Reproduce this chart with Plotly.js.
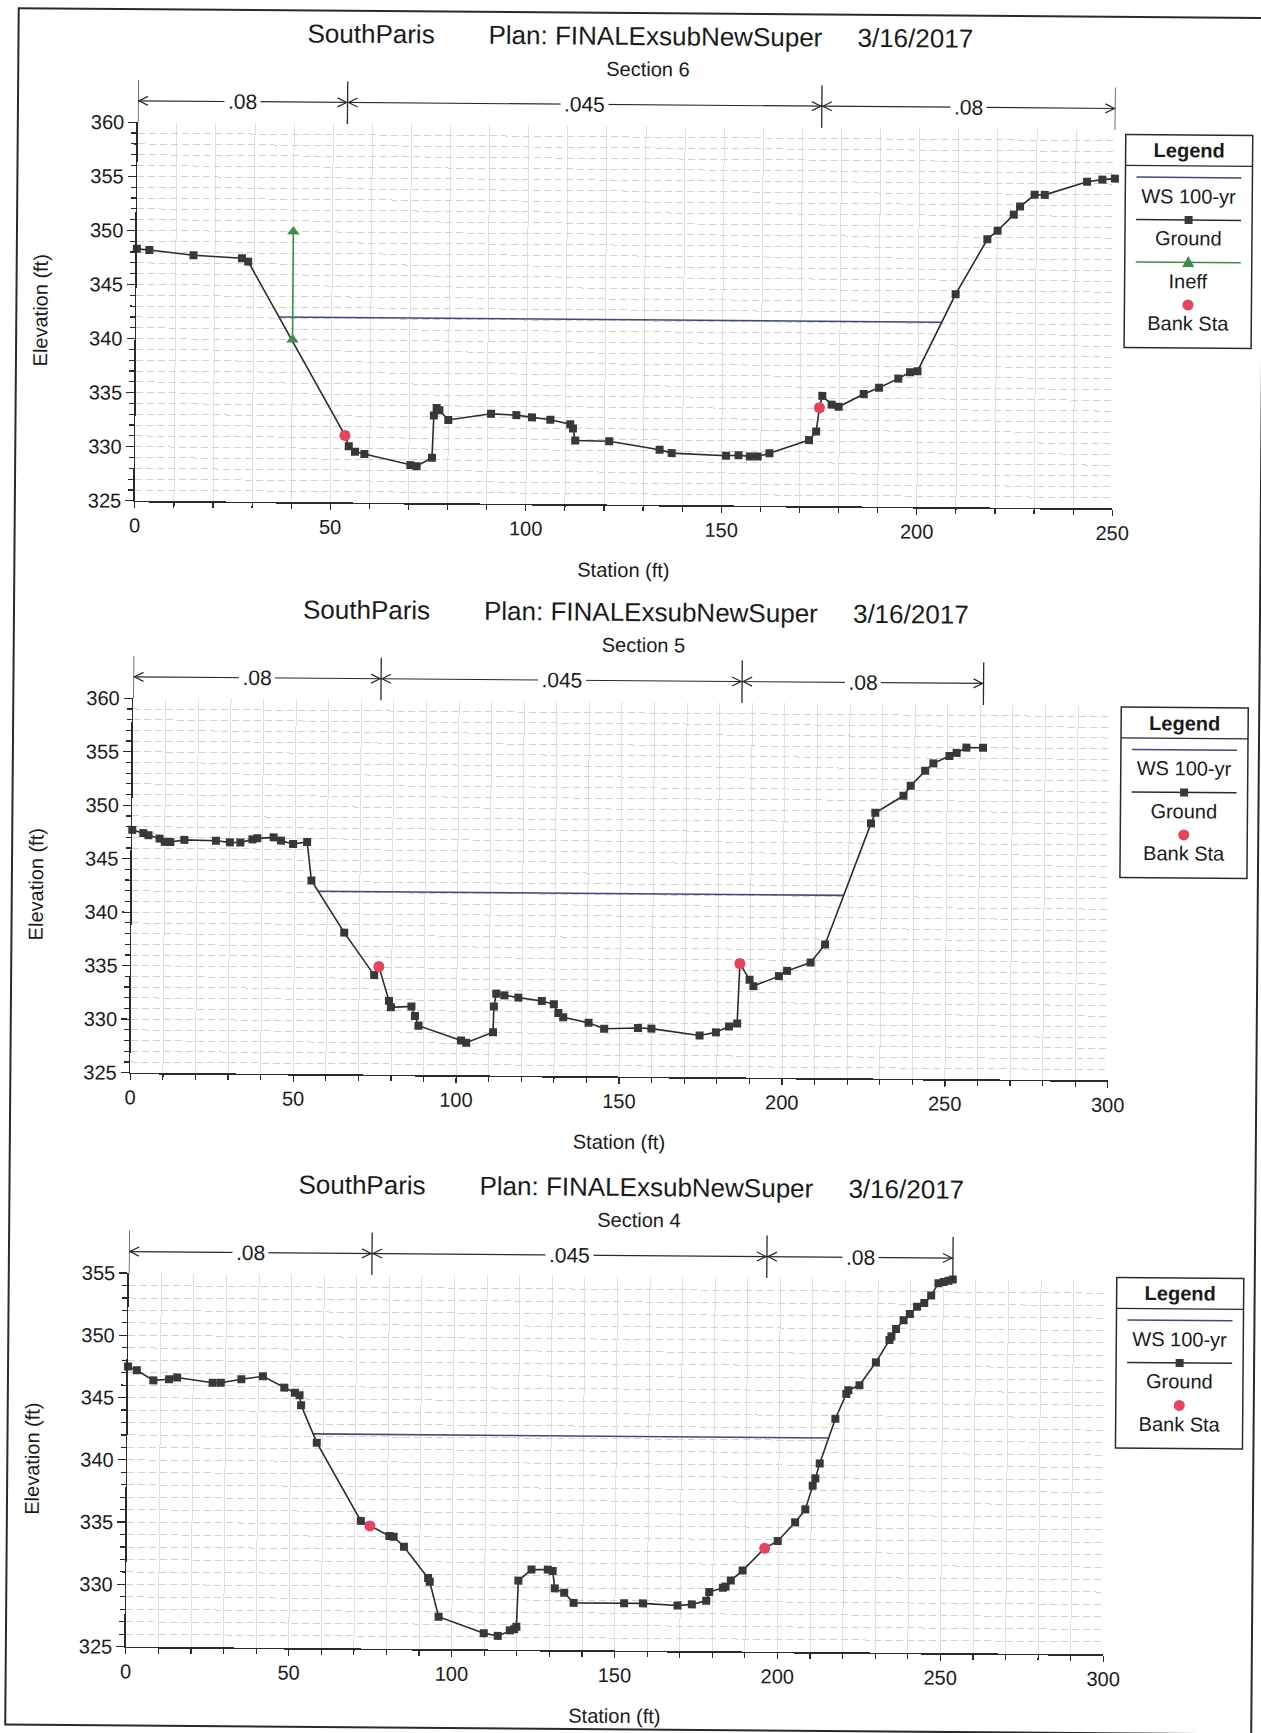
<!DOCTYPE html>
<html>
<head>
<meta charset="utf-8">
<script src="https://cdn.plot.ly/plotly-3.0.1.min.js"></script>
<style>
  html, body { margin: 0; padding: 0; background: #ffffff; overflow: hidden; }
  /* the printed page sits very slightly turned */
  #chart { width: 1261px; height: 1733px; transform: rotate(0.45deg); transform-origin: 630.5px 866.5px; }
</style>
</head>
<body>
<div id="chart"></div>
<script>
// ---- labels ----
const riverName = 'SouthParis';
const planName = 'Plan: FINALExsubNewSuper';
const planDate = '3/16/2017';
const sectionNames = ['Section 6', 'Section 5', 'Section 4'];
const legendTitle = 'Legend';
const wsName = 'WS 100-yr';
const groundName = 'Ground';
const ineffName = 'Ineff';
const bankName = 'Bank Sta';
const xTitle = 'Station (ft)';
const yTitle = 'Elevation (ft)';

// ---- Section 6 ----
const sec6Station = [0, 3.2, 14.5, 26.9, 28.5, 53.6, 54.6, 56.2, 58.6, 70.4, 72.0, 75.9, 76.3, 77.0, 77.7, 80.0, 90.9, 97.4, 101.4, 106.1, 111.2, 111.9, 112.5, 121.2, 134.1, 137.2, 151.1, 154.3, 157.2, 159.2, 162.2, 172.3, 174.1, 174.9, 175.6, 178.0, 179.8, 186.2, 190.1, 195.0, 198.0, 199.9, 209.5, 217.5, 220.1, 224.2, 225.8, 229.5, 232.1, 242.9, 246.8, 250.0];
const sec6Elev = [348.3, 348.2, 347.75, 347.5, 347.2, 331.2, 330.2, 329.7, 329.5, 328.5, 328.4, 329.2, 333.1, 333.8, 333.6, 332.7, 333.3, 333.2, 333.0, 332.8, 332.4, 332.0, 330.9, 330.85, 330.1, 329.8, 329.6, 329.65, 329.55, 329.55, 329.85, 331.1, 331.9, 334.1, 335.2, 334.4, 334.2, 335.4, 336.0, 336.85, 337.45, 337.55, 344.7, 349.8, 350.6, 352.1, 352.85, 353.95, 353.95, 355.2, 355.4, 355.5];
const sec6Bank = [53.6, 174.9];
const sec6WS = 342.1;
const sec6IneffStation = [40, 40];
const sec6IneffElev = [340, 350];
const sec6N = ['.08', '.045', '.08'];
const sec6XRange = [0, 250];
const sec6YRange = [325, 360];

// ---- Section 5 ----
const sec5Station = [0, 3.4, 5.0, 8.4, 10.0, 11.7, 16.0, 25.7, 30.0, 33.2, 36.9, 38.4, 43.4, 45.7, 49.4, 53.7, 55.1, 65.3, 74.6, 76.0, 79.2, 79.8, 86.1, 87.2, 88.3, 101.4, 103.0, 111.2, 111.4, 112.1, 114.6, 118.9, 126.1, 129.8, 131.2, 132.7, 140.5, 145.3, 155.7, 159.8, 174.6, 179.6, 183.6, 186.1, 186.8, 189.8, 191.0, 198.8, 201.3, 208.5, 212.9, 226.7, 228.0, 236.6, 238.8, 243.2, 245.7, 250.6, 252.8, 255.8, 260.9];
const sec5Elev = [347.7, 347.4, 347.2, 346.9, 346.6, 346.6, 346.8, 346.75, 346.6, 346.6, 346.9, 347.0, 347.1, 346.8, 346.5, 346.7, 343.1, 338.25, 334.3, 335.1, 331.9, 331.3, 331.4, 330.5, 329.6, 328.25, 328.05, 329.05, 331.45, 332.65, 332.5, 332.3, 332.0, 331.7, 330.9, 330.5, 330.0, 329.45, 329.55, 329.5, 328.9, 329.2, 329.75, 330.05, 335.65, 334.15, 333.55, 334.5, 335.0, 335.8, 337.5, 348.85, 349.85, 351.45, 352.4, 353.8, 354.5, 355.2, 355.5, 356.0, 356.0];
const sec5Bank = [76.0, 186.8];
const sec5WS = 342.1;
const sec5N = ['.08', '.045', '.08'];
const sec5XRange = [0, 300];
const sec5YRange = [325, 360];

// ---- Section 4 ----
const sec4Station = [0, 2.7, 7.8, 12.6, 15.1, 26.0, 28.5, 34.8, 41.4, 48.0, 51.3, 52.7, 53.2, 58.1, 71.8, 74.6, 80.6, 81.9, 85.1, 92.6, 93.1, 95.9, 109.8, 114.1, 117.8, 119.1, 119.8, 120.3, 124.3, 129.3, 130.8, 131.5, 134.4, 137.3, 152.8, 158.6, 169.2, 173.6, 178.0, 178.9, 183.1, 183.9, 185.5, 189.1, 195.8, 199.8, 205.1, 208.2, 210.4, 211.2, 212.5, 217.2, 220.5, 221.1, 224.5, 229.5, 233.6, 234.2, 235.6, 237.9, 239.8, 242.0, 244.2, 246.3, 248.5, 250.1, 251.6, 252.9];
const sec4Elev = [347.5, 347.2, 346.4, 346.5, 346.65, 346.25, 346.25, 346.55, 346.8, 345.9, 345.5, 345.3, 344.5, 341.5, 335.25, 334.85, 334.05, 334.0, 333.2, 330.7, 330.4, 327.6, 326.3, 326.1, 326.55, 326.65, 326.85, 330.55, 331.45, 331.45, 331.35, 329.95, 329.6, 328.8, 328.8, 328.8, 328.65, 328.75, 329.05, 329.75, 330.1, 330.2, 330.7, 331.5, 333.3, 333.9, 335.4, 336.45, 338.35, 338.95, 340.15, 343.75, 345.75, 346.05, 346.45, 348.3, 350.1, 350.4, 351.0, 351.7, 352.2, 352.8, 353.1, 353.7, 354.7, 354.8, 354.9, 355.0];
const sec4Bank = [74.6, 195.8];
const sec4WS = 342.2;
const sec4N = ['.08', '.045', '.08'];
const sec4XRange = [0, 300];
const sec4YRange = [325, 355];

// ---- page geometry (pixels) ----
const W = 1261, H = 1733;
const PLOT_L = 132, PLOT_R = 1109.5;
const PANEL_TOP = [126.2, 702.2, 1277.0];
const PANEL_BOTTOM = [504.7, 1076.6, 1650.6];
const LEGEND_TOP = [130.6, 703.1, 1273.6];
const LEG_L = 1120, LEG_R = 1247, LEG_LINE_L = 1131, LEG_LINE_R = 1236, LEG_CX = 1183.5;
const TITLE_LEFT = [298.5, 479.5, 848.5];

// ---- styling ----
const FONT = 'Liberation Sans, Arial, sans-serif';
const TEXT = '#1a1a1a';
const INK = '#2a2a2a';
const GRID_H = '#d2d2d2';
const GRID_V = '#e0e0e0';
const WS_COLOR = '#3c4a7c';
const GROUND_COLOR = '#2b2b2b';
const GROUND_MARK = '#383838';
const INEFF_COLOR = '#3f8c48';
const BANK_COLOR = '#e8435e';

const fx = px => px / W;
const fy = py => 1 - py / H;

const sections = [
  { name: sectionNames[0], station: sec6Station, elev: sec6Elev, bank: sec6Bank, ws: sec6WS, n: sec6N,
    ineff: { station: sec6IneffStation, elev: sec6IneffElev }, xRange: sec6XRange, yRange: sec6YRange },
  { name: sectionNames[1], station: sec5Station, elev: sec5Elev, bank: sec5Bank, ws: sec5WS, n: sec5N,
    ineff: null, xRange: sec5XRange, yRange: sec5YRange },
  { name: sectionNames[2], station: sec4Station, elev: sec4Elev, bank: sec4Bank, ws: sec4WS, n: sec4N,
    ineff: null, xRange: sec4XRange, yRange: sec4YRange }
];

// water surface runs between the two points where it meets the ground
function wsExtent(xs, ys, ws) {
  let left = xs[0], right = xs[xs.length - 1];
  for (let j = 0; j < xs.length - 1; j++) {
    if (ys[j] >= ws && ys[j + 1] < ws) {
      left = xs[j] + (ys[j] - ws) / (ys[j] - ys[j + 1]) * (xs[j + 1] - xs[j]);
      break;
    }
  }
  for (let j = xs.length - 1; j > 0; j--) {
    if (ys[j] >= ws && ys[j - 1] < ws) {
      right = xs[j - 1] + (ws - ys[j - 1]) / (ys[j] - ys[j - 1]) * (xs[j] - xs[j - 1]);
      break;
    }
  }
  return [left, right];
}

const traces = [];
const shapes = [];
const annotations = [];
const layout = {
  width: W, height: H,
  margin: { l: 0, r: 0, t: 0, b: 0, pad: 0 },
  paper_bgcolor: '#ffffff', plot_bgcolor: '#ffffff',
  showlegend: false,
  font: { family: FONT, color: TEXT },
  shapes: shapes, annotations: annotations
};

sections.forEach((s, i) => {
  const k = i === 0 ? '' : String(i + 1);
  const xa = 'x' + k, ya = 'y' + k;
  const top = PANEL_TOP[i], bottom = PANEL_BOTTOM[i];

  layout['xaxis' + k] = {
    domain: [fx(PLOT_L), fx(PLOT_R)], range: s.xRange, anchor: ya,
    tick0: 0, dtick: 50, ticks: 'outside', ticklen: 6, tickwidth: 1.3, tickcolor: INK,
    showline: true, linecolor: INK, linewidth: 1.6, zeroline: false,
    showgrid: true, gridcolor: GRID_V, gridwidth: 1,
    minor: { dtick: 10, ticks: 'outside', ticklen: 5, tickwidth: 1.2, tickcolor: INK,
             showgrid: true, gridcolor: GRID_V, gridwidth: 1 },
    tickfont: { size: 20, color: TEXT, family: FONT }, fixedrange: true
  };
  layout['yaxis' + k] = {
    domain: [fy(bottom), fy(top)], range: s.yRange, anchor: xa,
    tick0: 325, dtick: 5, ticks: 'outside', ticklen: 8, tickwidth: 1.3, tickcolor: INK,
    showline: true, linecolor: INK, linewidth: 1.6, zeroline: false,
    showgrid: true, gridcolor: GRID_H, gridwidth: 1, griddash: '7px,4px',
    minor: { dtick: 1, ticks: 'outside', ticklen: 5, tickwidth: 1.2, tickcolor: INK,
             showgrid: true, gridcolor: GRID_H, gridwidth: 1, griddash: '7px,4px' },
    tickfont: { size: 20, color: TEXT, family: FONT }, fixedrange: true
  };

  // water surface
  const wsX = wsExtent(s.station, s.elev, s.ws);
  traces.push({ x: wsX, y: [s.ws, s.ws], xaxis: xa, yaxis: ya, mode: 'lines', name: wsName,
    line: { color: WS_COLOR, width: 1.6 }, hoverinfo: 'skip' });
  // ground profile
  traces.push({ x: s.station, y: s.elev, xaxis: xa, yaxis: ya, mode: 'lines+markers', name: groundName,
    line: { color: GROUND_COLOR, width: 1.6 }, cliponaxis: false,
    marker: { symbol: 'square', size: 8, color: GROUND_MARK }, hoverinfo: 'skip' });
  // ineffective flow limit
  if (s.ineff) {
    traces.push({ x: s.ineff.station, y: s.ineff.elev, xaxis: xa, yaxis: ya, mode: 'lines+markers', name: ineffName,
      line: { color: INEFF_COLOR, width: 1.6 }, cliponaxis: false,
      marker: { symbol: 'triangle-up', size: 11, color: INEFF_COLOR }, hoverinfo: 'skip' });
  }
  // bank stations
  const bankElev = s.bank.map(b => s.elev[s.station.indexOf(b)]);
  traces.push({ x: s.bank, y: bankElev, xaxis: xa, yaxis: ya, mode: 'markers', name: bankName,
    cliponaxis: false, marker: { symbol: 'circle', size: 11, color: BANK_COLOR }, hoverinfo: 'skip' });

  // title lines
  [riverName, planName, planDate].forEach((t, j) => {
    annotations.push({ xref: 'paper', yref: 'paper', x: fx(TITLE_LEFT[j]), y: fy(top - 90.5),
      xanchor: 'left', yanchor: 'middle', text: t, showarrow: false,
      font: { size: 26, color: TEXT, family: FONT } });
  });
  annotations.push({ xref: 'paper', yref: 'paper', x: fx(641), y: fy(top - 57.5),
    xanchor: 'center', yanchor: 'middle', text: s.name, showarrow: false,
    font: { size: 20, color: TEXT, family: FONT } });

  // axis titles
  annotations.push({ xref: 'paper', yref: 'paper', x: fx((PLOT_L + PLOT_R) / 2), y: fy(bottom + 65),
    xanchor: 'center', yanchor: 'middle', text: xTitle, showarrow: false,
    font: { size: 20, color: TEXT, family: FONT } });
  annotations.push({ xref: 'paper', yref: 'paper', x: fx(36.6), y: fy((top + bottom) / 2),
    xanchor: 'center', yanchor: 'middle', text: yTitle, textangle: -90, showarrow: false,
    font: { size: 20, color: TEXT, family: FONT } });

  // Manning's n bands above the plot
  const bounds = [s.station[0], s.bank[0], s.bank[1], s.station[s.station.length - 1]];
  const arrowY = fy(top - 21.5);
  shapes.push({ type: 'line', xref: xa, yref: 'paper', x0: bounds[0], x1: bounds[3], y0: arrowY, y1: arrowY,
    line: { color: INK, width: 1.2 } });
  bounds.forEach(b => {
    shapes.push({ type: 'line', xref: xa, yref: 'paper', x0: b, x1: b, y0: fy(top), y1: fy(top - 42.5),
      line: { color: INK, width: 1.3 } });
  });
  for (let m = 0; m < 3; m++) {
    const a = bounds[m], b = bounds[m + 1];
    shapes.push({ type: 'path', xref: xa, yref: 'paper', xsizemode: 'pixel', ysizemode: 'pixel',
      xanchor: a, yanchor: arrowY, path: 'M 10,4.5 L 1,0 L 10,-4.5', line: { color: INK, width: 1.2 } });
    shapes.push({ type: 'path', xref: xa, yref: 'paper', xsizemode: 'pixel', ysizemode: 'pixel',
      xanchor: b, yanchor: arrowY, path: 'M -10,4.5 L -1,0 L -10,-4.5', line: { color: INK, width: 1.2 } });
    annotations.push({ xref: xa, yref: 'paper', x: (a + b) / 2, y: arrowY, xanchor: 'center', yanchor: 'middle',
      text: s.n[m], showarrow: false, bgcolor: '#ffffff', borderpad: 3,
      font: { size: 21, color: TEXT, family: FONT } });
  }

  // legend box
  const entries = s.ineff ? ['ws', 'ground', 'ineff', 'bank'] : ['ws', 'ground', 'bank'];
  const B = LEGEND_TOP[i];
  const boxBottom = B + 61 + 42.5 * (entries.length - 1) + 24.5;
  shapes.push({ type: 'rect', xref: 'paper', yref: 'paper', x0: fx(LEG_L), x1: fx(LEG_R), y0: fy(B), y1: fy(boxBottom),
    line: { color: INK, width: 1.5 }, fillcolor: '#ffffff', layer: 'above' });
  shapes.push({ type: 'line', xref: 'paper', yref: 'paper', x0: fx(LEG_L), x1: fx(LEG_R), y0: fy(B + 31), y1: fy(B + 31),
    line: { color: INK, width: 1.3 } });
  annotations.push({ xref: 'paper', yref: 'paper', x: fx(LEG_CX), y: fy(B + 15.5), xanchor: 'center', yanchor: 'middle',
    text: '<b>' + legendTitle + '</b>', showarrow: false, font: { size: 20, color: TEXT, family: FONT } });
  const names = { ws: wsName, ground: groundName, ineff: ineffName, bank: bankName };
  entries.forEach((e, j) => {
    const ly = B + 42.5 + 42.5 * j;
    const ty = B + 61 + 42.5 * j;
    const lineShape = color => ({ type: 'line', xref: 'paper', yref: 'paper', x0: fx(LEG_LINE_L), x1: fx(LEG_LINE_R),
      y0: fy(ly), y1: fy(ly), line: { color: color, width: 1.5 } });
    if (e === 'ws') shapes.push(lineShape(WS_COLOR));
    if (e === 'ground') {
      shapes.push(lineShape(GROUND_COLOR));
      shapes.push({ type: 'rect', xref: 'paper', yref: 'paper', x0: fx(LEG_CX - 4), x1: fx(LEG_CX + 4),
        y0: fy(ly - 4), y1: fy(ly + 4), line: { width: 0 }, fillcolor: GROUND_MARK });
    }
    if (e === 'ineff') {
      shapes.push(lineShape(INEFF_COLOR));
      shapes.push({ type: 'path', xref: 'paper', yref: 'paper',
        path: 'M ' + fx(LEG_CX) + ',' + fy(ly - 6.5) + ' L ' + fx(LEG_CX - 6) + ',' + fy(ly + 4.5) +
              ' L ' + fx(LEG_CX + 6) + ',' + fy(ly + 4.5) + ' Z',
        line: { width: 0 }, fillcolor: INEFF_COLOR });
    }
    if (e === 'bank') {
      shapes.push({ type: 'circle', xref: 'paper', yref: 'paper', x0: fx(LEG_CX - 5.5), x1: fx(LEG_CX + 5.5),
        y0: fy(ly - 5.5), y1: fy(ly + 5.5), line: { width: 0 }, fillcolor: BANK_COLOR });
    }
    annotations.push({ xref: 'paper', yref: 'paper', x: fx(LEG_CX), y: fy(ty), xanchor: 'center', yanchor: 'middle',
      text: names[e], showarrow: false, font: { size: 20, color: TEXT, family: FONT } });
  });
});

// page frame
shapes.push({ type: 'rect', xref: 'paper', yref: 'paper', x0: fx(12), x1: fx(1258), y0: fy(13), y1: fy(1729.5),
  line: { color: INK, width: 2 } });

Plotly.newPlot('chart', traces, layout, { staticPlot: true, displayModeBar: false });
</script>
</body>
</html>
